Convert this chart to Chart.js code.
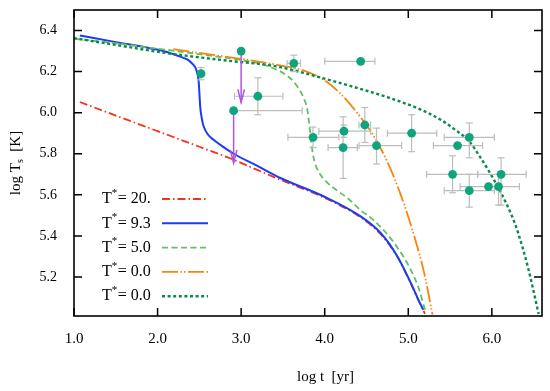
<!DOCTYPE html>
<html><head><meta charset="utf-8">
<script src="https://cdn.jsdelivr.net/npm/chart.js@4/dist/chart.umd.min.js"></script>
<style>html,body{margin:0;padding:0;background:#fff;}</style>
</head><body>
<canvas id="c" width="550" height="391"></canvas>
<script>
// ---- curves (log t [yr], log Ts [K]) ----
const t20_logt = [1.07, 1.5, 2.0, 2.5, 2.91, 3.2, 3.47, 3.99, 4.43, 4.67, 4.87, 5.03, 5.12, 5.2];
const t20_logT = [6.052, 5.986, 5.91, 5.834, 5.771, 5.72, 5.673, 5.587, 5.49, 5.408, 5.298, 5.168, 5.088, 5.02];

const t93_logt = [1.07, 1.47, 1.91, 2.1, 2.27, 2.36, 2.41, 2.45, 2.47, 2.49, 2.50, 2.51, 2.53, 2.55, 2.6, 2.67, 2.78, 2.91, 3.2, 3.47, 3.99, 4.43, 4.67, 4.87, 5.03, 5.12, 5.18];
const t93_logT = [6.376, 6.346, 6.314, 6.297, 6.273, 6.258, 6.241, 6.222, 6.2, 6.16, 6.10, 6.03, 5.97, 5.935, 5.895, 5.868, 5.835, 5.8, 5.74, 5.682, 5.592, 5.495, 5.414, 5.30, 5.171, 5.09, 5.04];

const t50_logt = [1.0, 1.5, 2.0, 2.5, 3.0, 3.25, 3.43, 3.55, 3.63, 3.70, 3.75, 3.79, 3.81, 3.83, 3.85, 3.88, 3.93, 4.03, 4.15, 4.27, 4.43, 4.59, 4.83, 5.03, 5.12, 5.2];
const t50_logT = [6.36, 6.338, 6.312, 6.285, 6.256, 6.236, 6.209, 6.18, 6.15, 6.11, 6.07, 6.02, 5.96, 5.89, 5.82, 5.76, 5.71, 5.66, 5.62, 5.585, 5.525, 5.475, 5.366, 5.235, 5.15, 5.04];

const t00a_logt = [2.19, 2.6, 3.0, 3.43, 3.75, 3.99, 4.19, 4.39, 4.59, 4.75, 4.91, 5.07, 5.19, 5.29];
const t00a_logT = [6.309, 6.285, 6.262, 6.233, 6.205, 6.16, 6.092, 5.998, 5.884, 5.76, 5.60, 5.40, 5.22, 5.017];

const t00b_logt = [1.0, 1.5, 2.11, 2.8, 3.43, 3.87, 4.35, 4.79, 5.15, 5.39, 5.55, 5.73, 5.85, 5.95, 6.11, 6.25, 6.31, 6.43, 6.56];
const t00b_logT = [6.363, 6.33, 6.29, 6.255, 6.225, 6.18, 6.125, 6.07, 6.015, 5.965, 5.92, 5.86, 5.79, 5.725, 5.61, 5.487, 5.42, 5.25, 5.02];

const legendLabels = ['20.', '9.3', '5.0', '0.0', '0.0'];

// ---- observed sources ----
const obsLogt = [2.52, 3.63, 4.43, 3.20, 3.86, 4.23, 4.22, 4.48, 4.62, 5.04, 5.59, 5.73, 5.53, 6.11, 5.96, 6.08, 5.73];
const obsLogT = [6.19, 6.24, 6.25, 6.08, 5.88, 5.91, 5.83, 5.94, 5.84, 5.90, 5.84, 5.88, 5.70, 5.70, 5.64, 5.64, 5.62];
const obsTLo  = [null, 3.55, 4.00, 2.92, 3.56, 3.93, 4.04, 4.41, 4.41, 4.75, 5.30, 5.43, 5.22, 5.83, 5.62, null, 5.43];
const obsTHi  = [null, 3.71, 4.60, 3.50, 4.17, 4.55, 4.39, 4.55, 4.92, 5.34, 5.89, 6.03, 5.83, 6.41, 6.33, null, 6.03];
const obsTsLo = [6.16, 6.20, null, 5.99, 5.83, 5.88, 5.68, 5.855, 5.75, 5.81, null, 5.78, 5.61, 5.55, null, 5.55, 5.54];
const obsTsHi = [6.22, 6.28, null, 6.17, 5.93, 5.94, 5.98, 6.025, 5.925, 5.99, null, 5.95, 5.79, 5.78, null, 5.70, 5.70];

// upper limits (arrows)
const limLogt   = [3.00, 2.91];
const limLogT   = [6.30, 6.01];
const limLogTTo = [6.05, 5.755];
const limXLo    = [null, 2.91];
const limXHi    = [null, 3.73];

const xTickStep = 1, yTickStep = 0.2;
const xMin = 1.0, xMax = 6.6, yMin = 5.01, yMax = 6.5;

const SERIF = '"Liberation Serif", "Times New Roman", serif';
const pts = (xs, ys) => xs.map((x, i) => ({x, y: ys[i]}));

function curve(label, xs, ys, color, dash, width, order) {
  return {type: 'line', label, data: pts(xs, ys), borderColor: color, borderWidth: width,
    borderDash: dash, pointRadius: 0, fill: false, cubicInterpolationMode: 'monotone', order};
}

// error bars as segments
const hBars = [], vBars = [];
obsLogt.forEach((x, i) => {
  if (obsTLo[i] != null) { hBars.push({x: obsTLo[i], y: obsLogT[i]}, {x: obsTHi[i], y: obsLogT[i]}, {x: obsTHi[i], y: null}); }
  if (obsTsLo[i] != null) { vBars.push({x, y: obsTsLo[i]}, {x, y: obsTsHi[i]}, {x, y: null}); }
});
limLogt.forEach((x, i) => {
  if (limXLo[i] != null) hBars.push({x: limXLo[i], y: limLogT[i]}, {x: limXHi[i], y: limLogT[i]}, {x: limXHi[i], y: null});
});
const arrowSegs = [];
limLogt.forEach((x, i) => { arrowSegs.push({x, y: limLogT[i]}, {x, y: limLogTTo[i]}, {x, y: null}); });

const GRAY = '#bdbdbd', PURPLE = '#b054e2', TEAL = '#0fa47c';

const datasets = [
  curve('T*=20.', t20_logt, t20_logT, '#f5331a', [8, 3, 1.5, 3], 1.8, 7),
  curve('T*=9.3', t93_logt, t93_logT, '#1a3cf2', [], 2, 6),
  curve('T*=5.0', t50_logt, t50_logT, '#62c25e', [6, 3.5], 1.8, 5),
  curve('T*=0.0', t00a_logt, t00a_logT, '#f8860d', [16, 2.5, 1.5, 2, 1.5, 2.5], 1.8, 4),
  curve('T*=0.0', t00b_logt, t00b_logT, '#0b8a4c', [3, 2.6], 2.4, 3),
  {type: 'line', label: 'xerr', data: hBars, borderColor: GRAY, borderWidth: 1.2, spanGaps: false,
   pointStyle: 'line', rotation: 90, pointRadius: 3.5, pointBorderColor: GRAY, pointBorderWidth: 1.2, order: 2},
  {type: 'line', label: 'yerr', data: vBars, borderColor: GRAY, borderWidth: 1.2, spanGaps: false,
   pointStyle: 'line', rotation: 0, pointRadius: 3.5, pointBorderColor: GRAY, pointBorderWidth: 1.2, order: 2},
  {type: 'line', label: 'limits', data: arrowSegs, borderColor: PURPLE, borderWidth: 1.5, spanGaps: false, pointRadius: 0, order: 1},
  {type: 'scatter', label: 'obs', data: pts(obsLogt.concat(limLogt), obsLogT.concat(limLogT)),
   pointRadius: 4.4, backgroundColor: TEAL, borderColor: TEAL, borderWidth: 0, order: 0}
];

const framePlugin = {
  id: 'frame',
  afterDatasetsDraw(chart) {
    const ctx = chart.ctx, a = chart.chartArea, xs = chart.scales.x, ys = chart.scales.y;
    ctx.save();
    ctx.strokeStyle = PURPLE; ctx.lineWidth = 1.5;
    limLogt.forEach((x, i) => {
      const px = xs.getPixelForValue(x), py = ys.getPixelForValue(limLogTTo[i]);
      ctx.beginPath(); ctx.moveTo(px - 3.3, py - 13); ctx.lineTo(px, py); ctx.lineTo(px + 3.3, py - 13); ctx.stroke();
    });
    ctx.strokeStyle = '#000'; ctx.lineWidth = 1.6;
    ctx.strokeRect(a.left, a.top, a.right - a.left, a.bottom - a.top);
    ctx.lineWidth = 1.5;
    xs.ticks.forEach(t => {
      const px = xs.getPixelForValue(t.value);
      ctx.beginPath(); ctx.moveTo(px, a.bottom); ctx.lineTo(px, a.bottom - 8);
      ctx.moveTo(px, a.top); ctx.lineTo(px, a.top + 8); ctx.stroke();
    });
    ys.ticks.forEach(t => {
      const py = ys.getPixelForValue(t.value);
      ctx.beginPath(); ctx.moveTo(a.left, py); ctx.lineTo(a.left + 8, py);
      ctx.moveTo(a.right, py); ctx.lineTo(a.right - 8, py); ctx.stroke();
    });
    ctx.restore();
  },
  afterDraw(chart) {
    const ctx = chart.ctx, a = chart.chartArea;
    ctx.save();
    ctx.fillStyle = '#000';
    ctx.textBaseline = 'middle';
    ctx.font = '15px ' + SERIF;
    ctx.fillText('log t  [yr]', a.left + 223, 377);
    ctx.translate(16, (a.top + a.bottom) / 2);
    ctx.rotate(-Math.PI / 2);
    const p1 = 'log T', p2 = 's', p3 = '  [K]';
    ctx.font = '15px ' + SERIF; const w1 = ctx.measureText(p1).width, w3 = ctx.measureText(p3).width;
    ctx.font = '10px ' + SERIF; const w2 = ctx.measureText(p2).width;
    let sx = -(w1 + w2 + w3) / 2;
    ctx.font = '15px ' + SERIF; ctx.fillText(p1, sx, 0); sx += w1;
    ctx.font = '10px ' + SERIF; ctx.fillText(p2, sx, 4); sx += w2;
    ctx.font = '15px ' + SERIF; ctx.fillText(p3, sx, 0);
    ctx.restore();
    ctx.save();
    legendLabels.forEach((lab, i) => {
      const ly = a.bottom - 117 + i * 24.3;
      let lx = a.left + 28;
      ctx.fillStyle = '#000'; ctx.textBaseline = 'middle';
      ctx.font = '16px ' + SERIF; ctx.fillText('T', lx, ly); lx += ctx.measureText('T').width;
      ctx.font = '11px ' + SERIF; ctx.fillText('*', lx, ly - 6); lx += ctx.measureText('*').width + 0.5;
      ctx.font = '16px ' + SERIF; ctx.fillText('= ' + lab, lx, ly);
      const d = chart.data.datasets[i];
      ctx.strokeStyle = d.borderColor; ctx.lineWidth = d.borderWidth; ctx.setLineDash(d.borderDash || []);
      ctx.beginPath(); ctx.moveTo(a.left + 88, ly); ctx.lineTo(a.left + 134, ly); ctx.stroke();
    });
    ctx.restore();
  }
};

new Chart(document.getElementById('c'), {
  type: 'line',
  data: {datasets},
  options: {
    responsive: false, animation: false, devicePixelRatio: 1,
    layout: {padding: {top: 10, right: 8, left: 0, bottom: 0}},
    plugins: {legend: {display: false}, tooltip: {enabled: false}},
    scales: {
      x: {type: 'linear', min: xMin, max: xMax,
        ticks: {stepSize: xTickStep, includeBounds: false, callback: v => v.toFixed(1), color: '#000',
          font: {family: SERIF, size: 15}, padding: 14, maxRotation: 0},
        grid: {display: false, drawTicks: false}, border: {display: false},
        afterFit: s => { s.height = 75; s.paddingLeft = 0; s.paddingRight = 0; s.paddingTop = 0; s.paddingBottom = 0; }},
      y: {type: 'linear', min: yMin, max: yMax,
        ticks: {stepSize: yTickStep, includeBounds: false, callback: v => v.toFixed(1), color: '#000',
          font: {family: SERIF, size: 14}, padding: 17},
        grid: {display: false, drawTicks: false}, border: {display: false},
        afterFit: s => { s.width = 74; s.paddingLeft = 0; s.paddingRight = 0; s.paddingTop = 0; s.paddingBottom = 0; }}
    }
  },
  plugins: [framePlugin]
});
</script>
</body></html>
